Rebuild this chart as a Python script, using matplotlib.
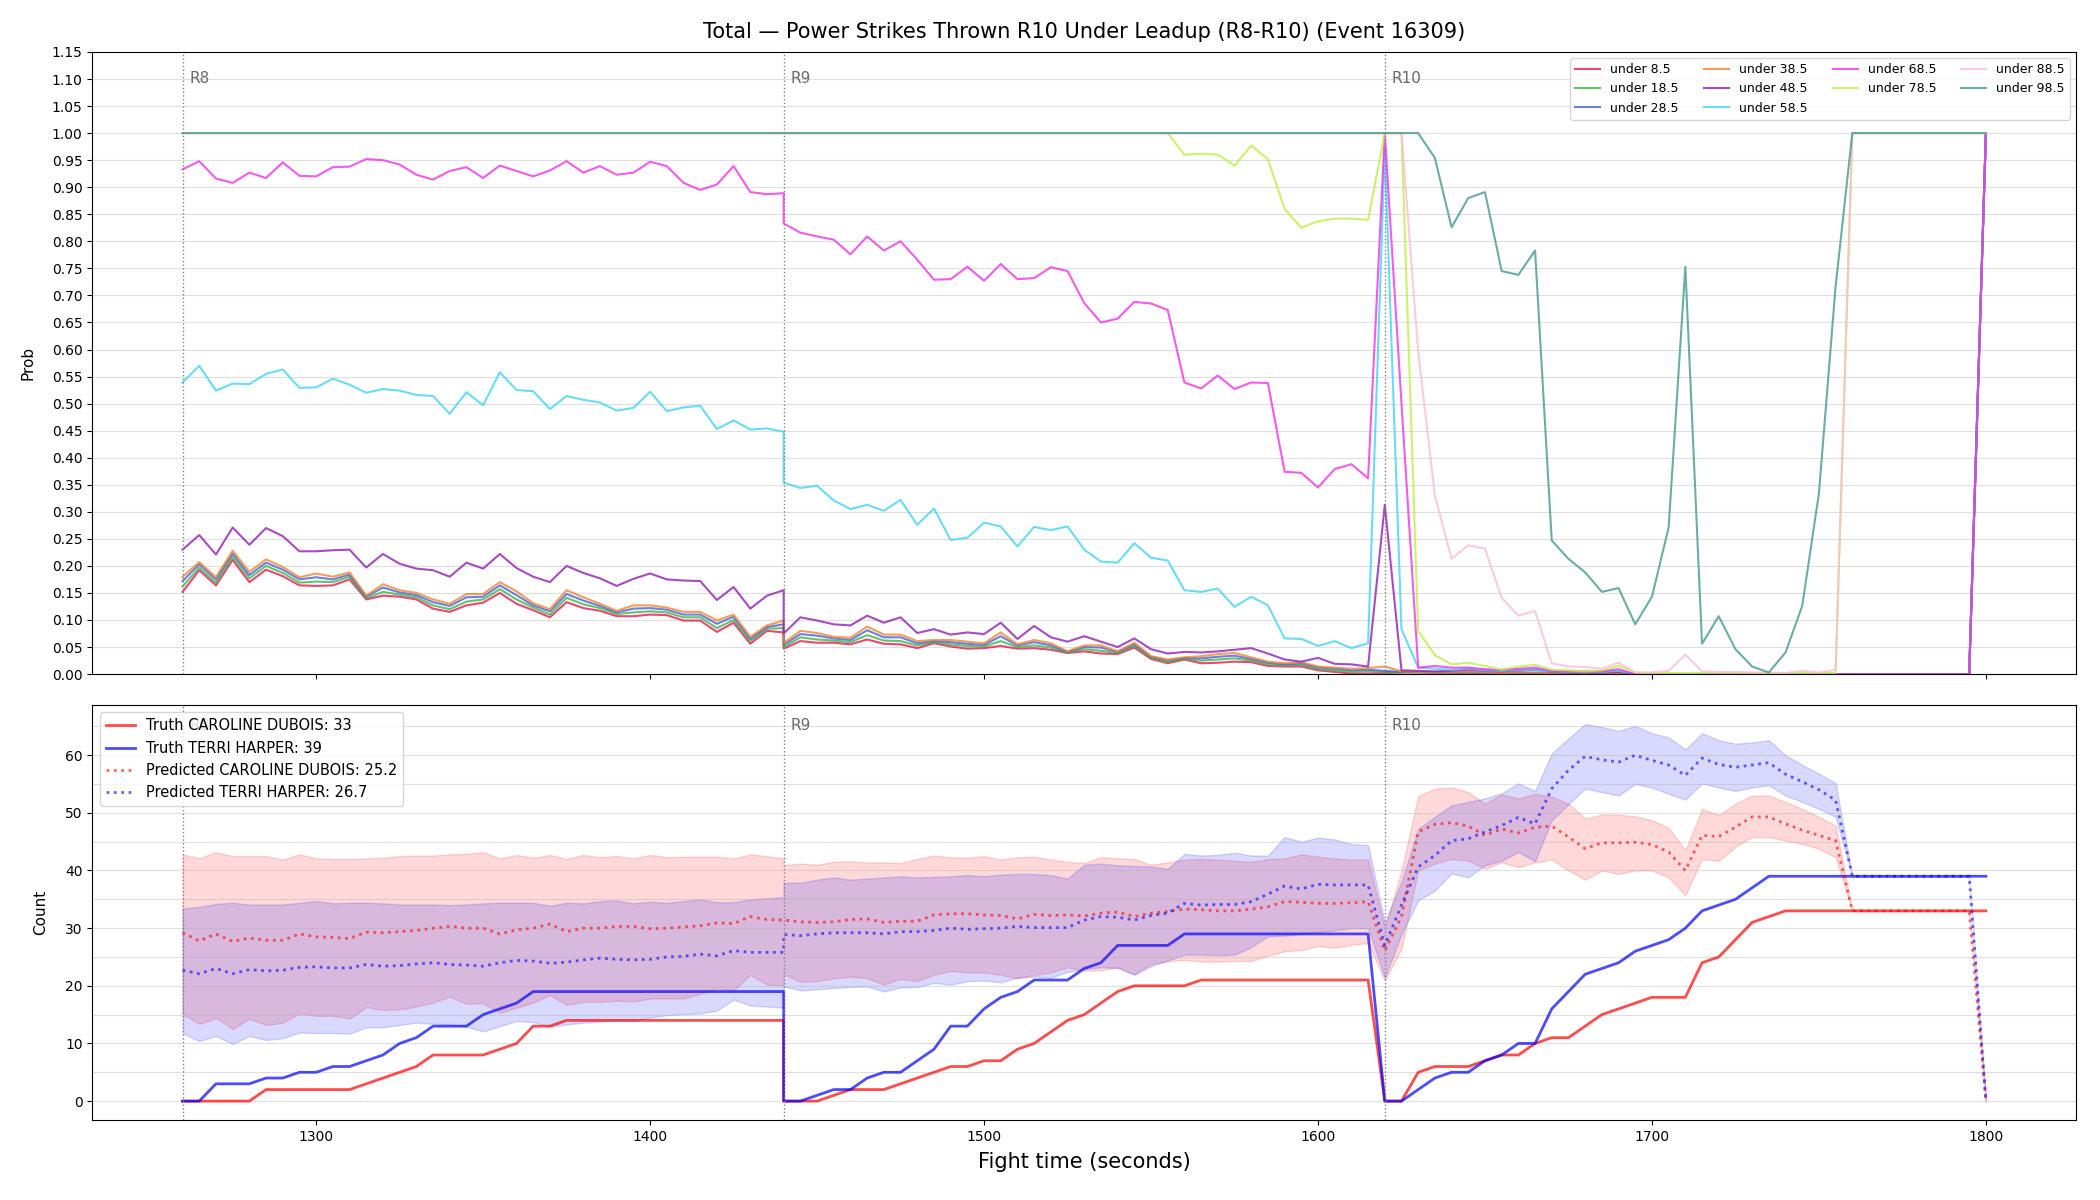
import numpy as np
import matplotlib.pyplot as plt
from matplotlib.ticker import MultipleLocator, FormatStrFormatter

# sample times, 5 s apart; R8 and R9 both carry a sample at 1440
t_r8 = list(range(1260, 1441, 5))
t_r9 = list(range(1440, 1616, 5))
t_r10 = list(range(1620, 1801, 5))
times = t_r8 + t_r9 + t_r10

round_starts = [1260, 1440, 1620]
round_names = ["R8", "R9", "R10"]

# ---- top panel: P(total < line) ----
line_labels = ["under 8.5", "under 18.5", "under 28.5", "under 38.5", "under 48.5",
               "under 58.5", "under 68.5", "under 78.5", "under 88.5", "under 98.5"]
line_colors = ["#e6194B", "#3cb44b", "#4363d8", "#f58231", "#911eb4",
               "#42d4f4", "#f032e6", "#bfef45", "#fabed4", "#469990"]

p_under_8 = ([0.152, 0.192, 0.164, 0.211, 0.170, 0.193, 0.181, 0.164, 0.163, 0.164,
              0.175, 0.138, 0.145, 0.143, 0.138, 0.121, 0.115, 0.127, 0.132, 0.150,
              0.130, 0.118, 0.105, 0.133, 0.122, 0.117, 0.107, 0.107, 0.110, 0.109,
              0.099, 0.099, 0.078, 0.095, 0.056, 0.080, 0.077]
             + [0.047, 0.061, 0.058, 0.058, 0.055, 0.064, 0.056, 0.055, 0.048, 0.057,
                0.051, 0.047, 0.048, 0.052, 0.047, 0.048, 0.045, 0.039, 0.042, 0.038,
                0.037, 0.049, 0.028, 0.020, 0.027, 0.020, 0.021, 0.023, 0.022, 0.015,
                0.014, 0.014, 0.007, 0.004, 0.001, 0.001]
             + [0.002, 0.003, 0.004, 0.003, 0.002, 0.003, 0.002, 0.002, 0.003, 0.002,
                0.001, 0.001, 0.001, 0.001, 0.001] + [0.0] * 21 + [1.0])

p_under_18 = ([0.162, 0.197, 0.169, 0.217, 0.177, 0.200, 0.187, 0.169, 0.171, 0.170,
               0.180, 0.140, 0.152, 0.147, 0.142, 0.127, 0.120, 0.134, 0.138, 0.157,
               0.138, 0.123, 0.110, 0.141, 0.129, 0.122, 0.111, 0.114, 0.116, 0.114,
               0.105, 0.105, 0.085, 0.100, 0.061, 0.084, 0.085]
              + [0.050, 0.068, 0.064, 0.062, 0.059, 0.072, 0.062, 0.061, 0.053, 0.059,
                 0.055, 0.052, 0.051, 0.061, 0.050, 0.053, 0.049, 0.040, 0.046, 0.043,
                 0.039, 0.052, 0.030, 0.022, 0.028, 0.025, 0.027, 0.029, 0.025, 0.018,
                 0.016, 0.017, 0.009, 0.007, 0.004, 0.005]
              + [0.004, 0.003, 0.003, 0.002, 0.002, 0.002, 0.002, 0.001, 0.002, 0.002,
                 0.001, 0.001, 0.001, 0.001, 0.001] + [0.0] * 21 + [1.0])

p_under_28 = ([0.172, 0.203, 0.175, 0.223, 0.183, 0.206, 0.193, 0.175, 0.179, 0.175,
               0.184, 0.143, 0.160, 0.151, 0.146, 0.133, 0.126, 0.142, 0.143, 0.164,
               0.146, 0.127, 0.116, 0.148, 0.136, 0.126, 0.114, 0.121, 0.122, 0.119,
               0.110, 0.110, 0.093, 0.106, 0.065, 0.087, 0.092]
              + [0.054, 0.074, 0.071, 0.066, 0.063, 0.081, 0.068, 0.068, 0.057, 0.061,
                 0.059, 0.056, 0.054, 0.070, 0.053, 0.059, 0.053, 0.041, 0.050, 0.049,
                 0.041, 0.055, 0.032, 0.025, 0.030, 0.029, 0.032, 0.034, 0.028, 0.021,
                 0.018, 0.020, 0.012, 0.010, 0.007, 0.008]
              + [0.006, 0.004, 0.003, 0.003, 0.002, 0.003, 0.002, 0.002, 0.002, 0.002,
                 0.001, 0.001, 0.001, 0.001, 0.001] + [0.0] * 21 + [1.0])

p_under_38 = ([0.180, 0.207, 0.179, 0.228, 0.189, 0.212, 0.198, 0.179, 0.186, 0.180,
               0.188, 0.145, 0.166, 0.155, 0.150, 0.138, 0.130, 0.148, 0.148, 0.170,
               0.153, 0.131, 0.120, 0.155, 0.142, 0.130, 0.117, 0.127, 0.127, 0.123,
               0.115, 0.115, 0.099, 0.110, 0.069, 0.090, 0.099]
              + [0.057, 0.080, 0.076, 0.069, 0.067, 0.088, 0.073, 0.073, 0.061, 0.063,
                 0.063, 0.060, 0.057, 0.077, 0.055, 0.063, 0.057, 0.042, 0.053, 0.053,
                 0.042, 0.058, 0.033, 0.027, 0.031, 0.033, 0.037, 0.039, 0.031, 0.023,
                 0.020, 0.022, 0.014, 0.012, 0.010, 0.011]
              + [0.014, 0.005, 0.004, 0.003, 0.003, 0.004, 0.003, 0.002, 0.003, 0.003,
                 0.002, 0.002, 0.002, 0.001, 0.001] + [0.0] * 21 + [1.0])

p_under_48 = ([0.230, 0.257, 0.221, 0.271, 0.239, 0.270, 0.255, 0.227, 0.227, 0.229,
               0.230, 0.197, 0.222, 0.204, 0.195, 0.192, 0.180, 0.206, 0.195, 0.222,
               0.196, 0.180, 0.170, 0.200, 0.187, 0.177, 0.163, 0.176, 0.186, 0.175,
               0.173, 0.172, 0.137, 0.161, 0.121, 0.145, 0.155]
              + [0.075, 0.105, 0.099, 0.092, 0.090, 0.108, 0.095, 0.105, 0.076, 0.083,
                 0.073, 0.077, 0.074, 0.095, 0.065, 0.089, 0.068, 0.060, 0.070, 0.060,
                 0.050, 0.066, 0.046, 0.038, 0.041, 0.040, 0.042, 0.045, 0.048, 0.038,
                 0.027, 0.023, 0.030, 0.019, 0.018, 0.014]
              + [0.313, 0.007, 0.006, 0.005, 0.006, 0.008, 0.006, 0.005, 0.007, 0.008,
                 0.004, 0.003, 0.003, 0.003, 0.004] + [0.0] * 21 + [1.0])

p_under_58 = ([0.539, 0.570, 0.524, 0.537, 0.536, 0.555, 0.563, 0.529, 0.530, 0.546,
               0.535, 0.520, 0.527, 0.524, 0.516, 0.514, 0.481, 0.521, 0.497, 0.558,
               0.525, 0.523, 0.490, 0.514, 0.507, 0.502, 0.487, 0.492, 0.522, 0.486,
               0.493, 0.496, 0.453, 0.469, 0.452, 0.454, 0.448]
              + [0.354, 0.344, 0.348, 0.321, 0.305, 0.313, 0.302, 0.322, 0.276, 0.306,
                 0.248, 0.252, 0.280, 0.273, 0.236, 0.272, 0.266, 0.273, 0.230, 0.208,
                 0.206, 0.242, 0.215, 0.210, 0.155, 0.152, 0.158, 0.124, 0.143, 0.127,
                 0.066, 0.065, 0.052, 0.061, 0.048, 0.057]
              + [0.970, 0.083, 0.012, 0.010, 0.008, 0.010, 0.007, 0.006, 0.008, 0.007,
                 0.005, 0.004, 0.004, 0.004, 0.006] + [0.0] * 21 + [1.0])

p_under_68 = ([0.933, 0.948, 0.916, 0.908, 0.927, 0.917, 0.946, 0.921, 0.920, 0.937,
               0.938, 0.952, 0.950, 0.942, 0.923, 0.914, 0.930, 0.937, 0.917, 0.940,
               0.930, 0.920, 0.931, 0.948, 0.927, 0.939, 0.923, 0.927, 0.947, 0.939,
               0.908, 0.895, 0.905, 0.939, 0.891, 0.887, 0.889]
              + [0.833, 0.816, 0.809, 0.803, 0.776, 0.809, 0.783, 0.800, 0.766, 0.729,
                 0.730, 0.753, 0.727, 0.758, 0.730, 0.732, 0.752, 0.745, 0.686, 0.650,
                 0.657, 0.688, 0.685, 0.673, 0.539, 0.528, 0.552, 0.527, 0.539, 0.538,
                 0.374, 0.372, 0.345, 0.379, 0.388, 0.362]
              + [1.0, 0.50, 0.012, 0.015, 0.012, 0.012, 0.009, 0.008, 0.010, 0.012,
                 0.006, 0.005, 0.005, 0.005, 0.009] + [0.0] * 21 + [1.0])

p_under_78 = ([1.0] * 37
              + [1.0] * 24 + [0.960, 0.962, 0.960, 0.940, 0.977, 0.952,
                              0.860, 0.825, 0.837, 0.842, 0.842, 0.840]
              + [1.0, 1.0, 0.080, 0.035, 0.018, 0.021, 0.015, 0.008, 0.014, 0.017,
                 0.008, 0.007, 0.005, 0.007, 0.015, 0.003, 0.002, 0.002, 0.002, 0.002,
                 0.002, 0.002, 0.002, 0.002, 0.002, 0.002, 0.002, 0.002] + [1.0] * 9)

p_under_88 = ([1.0] * 37 + [1.0] * 36
              + [1.0, 1.0, 0.596, 0.330, 0.213, 0.238, 0.232, 0.141, 0.108, 0.117,
                 0.020, 0.014, 0.013, 0.010, 0.021, 0.003, 0.003, 0.006, 0.036, 0.005,
                 0.004, 0.004, 0.003, 0.003, 0.002, 0.006, 0.003, 0.008] + [1.0] * 9)

p_under_98 = ([1.0] * 37 + [1.0] * 36
              + [1.0, 1.0, 1.0, 0.954, 0.826, 0.880, 0.891, 0.745, 0.738, 0.783,
                 0.247, 0.213, 0.188, 0.152, 0.159, 0.092, 0.143, 0.271, 0.753, 0.056,
                 0.107, 0.046, 0.014, 0.003, 0.040, 0.126, 0.334, 0.717] + [1.0] * 9)

prob_series = [p_under_8, p_under_18, p_under_28, p_under_38, p_under_48,
               p_under_58, p_under_68, p_under_78, p_under_88, p_under_98]

# ---- bottom panel: counts ----
truth_caroline = ([0] * 5 + [2] * 6 + [3, 4, 5, 6] + [8] * 4 + [9, 10, 13, 13] + [14] * 14
                  + [0, 0, 0, 1, 2, 2, 2, 3, 4, 5, 6, 6, 7, 7, 9, 10, 12, 14, 15, 17,
                     19, 20, 20, 20, 20] + [21] * 11
                  + [0, 0, 5, 6, 6, 6, 7, 8, 8, 10, 11, 11, 13, 15, 16, 17, 18, 18, 18, 24,
                     25, 28, 31, 32] + [33] * 13)
truth_terri = ([0, 0, 3, 3, 3, 4, 4, 5, 5, 6, 6, 7, 8, 10, 11, 13, 13, 13, 15, 16, 17] + [19] * 16
               + [0, 0, 1, 2, 2, 4, 5, 5, 7, 9, 13, 13, 16, 18, 19, 21, 21, 21, 23, 24,
                  27, 27, 27, 27] + [29] * 12
               + [0, 0, 2, 4, 5, 5, 7, 8, 10, 10, 16, 19, 22, 23, 24, 26, 27, 28, 30, 33,
                  34, 35, 37] + [39] * 14)

pred_caroline = ([29.2, 27.8, 29.0, 27.7, 28.3, 27.9, 27.9, 29.0, 28.5, 28.4, 28.2, 29.3,
                  29.2, 29.4, 29.6, 30.0, 30.3, 30.0, 30.0, 29.0, 29.7, 30.0, 30.7, 29.4,
                  30.0, 30.0, 30.3, 30.3, 29.9, 30.0, 30.2, 30.4, 30.9, 30.8, 32.0, 31.5, 31.4]
                 + [31.4, 31.1, 31.0, 31.1, 31.5, 31.6, 31.0, 31.2, 31.2, 32.3, 32.5, 32.5,
                    32.3, 32.2, 31.6, 32.4, 32.2, 32.3, 32.1, 32.6, 32.8, 32.0, 32.6, 32.9,
                    33.3, 33.2, 33.0, 33.0, 33.3, 33.7, 34.6, 34.5, 34.3, 34.3, 34.4, 34.6]
                 + [26.1, 32.0, 46.7, 48.0, 48.3, 47.7, 46.1, 47.2, 46.5, 47.5, 47.7, 45.8,
                    43.8, 44.8, 44.8, 44.9, 44.5, 43.2, 40.0, 46.1, 45.9, 47.5, 49.3, 49.3,
                    48.1, 47.0, 46.1, 45.2] + [33.0] * 8 + [0.0])
pred_terri = ([22.7, 22.1, 23.0, 22.1, 22.8, 22.6, 22.7, 23.2, 23.3, 23.1, 23.1, 23.7,
               23.4, 23.5, 23.8, 24.0, 23.7, 23.6, 23.4, 24.0, 24.4, 24.3, 23.9, 24.1,
               24.5, 24.8, 24.6, 24.5, 24.6, 25.0, 25.1, 25.5, 25.2, 26.1, 25.8, 25.8, 25.8]
              + [28.9, 28.7, 29.0, 29.2, 29.2, 29.2, 29.0, 29.4, 29.4, 29.6, 30.0, 29.8,
                 29.9, 30.0, 30.3, 30.1, 30.1, 30.1, 31.4, 32.0, 31.9, 31.4, 32.2, 32.6,
                 34.3, 34.0, 34.1, 34.1, 34.6, 35.9, 37.3, 36.8, 37.6, 37.5, 37.5, 37.5]
              + [27.0, 34.0, 40.6, 42.6, 45.2, 45.5, 46.7, 47.8, 49.2, 48.1, 54.2, 57.4,
                 59.8, 59.2, 58.8, 60.0, 59.1, 58.3, 56.5, 59.5, 58.4, 57.9, 58.3, 58.7,
                 56.7, 55.4, 54.0, 52.2] + [39.0] * 8 + [0.0])

caroline_hi = ([42.8, 42.1, 43.2, 42.5, 42.5, 42.5, 41.9, 42.8, 42.1, 42.0, 42.0, 42.1,
                42.2, 42.5, 42.6, 42.6, 42.8, 42.9, 43.2, 42.1, 42.7, 42.2, 42.7, 42.0,
                42.7, 42.3, 42.5, 42.1, 42.7, 42.3, 42.4, 42.4, 42.4, 42.1, 42.8, 42.5, 42.1]
               + [40.9, 41.2, 41.0, 41.5, 41.6, 41.4, 41.4, 41.3, 42.0, 42.6, 42.3, 42.2,
                  42.5, 41.9, 42.3, 42.4, 41.9, 41.5, 41.3, 42.3, 42.1, 42.0, 41.0, 41.4,
                  41.9, 42.0, 41.9, 41.7, 41.5, 42.0, 42.1, 42.8, 42.4, 42.1, 41.9, 41.9]
               + [30.0, 40.0, 52.9, 54.2, 54.4, 53.6, 51.6, 53.2, 52.5, 53.3, 52.8, 51.6,
                  49.0, 49.7, 49.7, 49.4, 48.7, 47.4, 43.5, 50.7, 49.6, 51.6, 53.0, 53.0,
                  51.9, 50.7, 49.3, 47.8] + [33.0] * 8 + [0.0])
caroline_lo = ([15.1, 13.4, 14.4, 12.5, 14.3, 13.2, 13.6, 15.2, 14.8, 14.8, 14.3, 16.3,
                15.8, 15.9, 16.4, 17.1, 18.1, 16.9, 17.0, 15.3, 16.2, 17.1, 18.4, 16.7,
                17.2, 17.2, 17.4, 17.3, 17.8, 17.8, 17.8, 18.6, 19.6, 19.2, 21.9, 20.2, 20.1]
               + [22.0, 20.7, 20.8, 21.3, 21.6, 21.3, 20.2, 21.2, 20.8, 21.9, 22.6, 22.3,
                  22.3, 21.9, 21.3, 21.9, 22.3, 23.2, 22.6, 22.7, 23.2, 22.0, 23.8, 24.2,
                  24.5, 24.2, 24.2, 24.3, 24.3, 25.2, 26.0, 26.2, 26.9, 26.6, 27.1, 27.4]
               + [20.9, 26.4, 40.0, 41.2, 42.0, 41.7, 40.3, 41.4, 40.6, 41.4, 41.9, 40.0,
                  38.4, 40.0, 39.4, 40.0, 40.0, 38.8, 35.7, 42.0, 41.7, 44.1, 45.8, 45.8,
                  45.2, 44.6, 43.8, 42.3] + [33.0] * 8 + [0.0])
terri_hi = ([33.4, 33.7, 34.2, 34.4, 34.1, 34.1, 34.1, 34.4, 34.7, 34.3, 34.4, 34.4,
             34.3, 34.1, 34.1, 34.1, 34.0, 34.1, 34.3, 34.4, 34.4, 34.4, 33.9, 34.4,
             34.3, 34.7, 34.8, 34.3, 34.6, 34.4, 34.7, 35.0, 34.5, 34.5, 35.0, 35.2, 35.4]
            + [37.9, 37.9, 38.4, 38.8, 38.4, 38.6, 38.8, 39.0, 38.8, 38.9, 39.0, 39.2,
               39.0, 39.3, 39.4, 39.4, 39.2, 38.6, 41.0, 41.2, 40.9, 40.8, 40.7, 40.3,
               42.9, 42.6, 42.7, 43.1, 42.6, 42.6, 45.8, 45.0, 45.7, 45.4, 44.6, 44.4]
            + [31.0, 38.0, 47.2, 49.3, 51.3, 51.9, 52.5, 53.4, 55.1, 53.8, 60.3, 62.9,
               65.4, 64.9, 64.2, 65.1, 63.8, 63.1, 61.0, 63.8, 62.6, 62.0, 62.2, 62.6,
               60.0, 58.3, 56.8, 55.2] + [39.0] * 8 + [0.0])
terri_lo = ([11.8, 10.4, 11.3, 9.9, 11.3, 10.6, 10.9, 11.9, 11.8, 11.8, 11.7, 12.8,
             12.8, 13.2, 13.6, 13.4, 13.3, 12.9, 12.1, 13.0, 13.9, 13.7, 12.9, 13.3,
             13.6, 13.8, 14.0, 13.9, 14.5, 14.9, 15.1, 15.2, 15.7, 17.6, 16.6, 16.4, 16.2]
            + [19.9, 19.2, 19.4, 19.6, 19.8, 19.9, 19.0, 19.7, 19.8, 20.5, 20.2, 20.8,
               20.9, 20.6, 21.4, 21.6, 21.4, 22.4, 22.9, 23.2, 23.1, 21.9, 23.4, 24.4,
               25.4, 25.4, 25.3, 25.4, 26.7, 28.6, 28.7, 29.0, 29.3, 29.6, 30.0, 30.0]
            + [21.4, 29.0, 34.8, 36.5, 39.5, 38.8, 40.9, 41.7, 43.2, 41.6, 48.7, 51.5,
               54.2, 53.6, 53.0, 55.0, 54.4, 53.3, 52.3, 55.1, 54.4, 53.8, 54.4, 54.8,
               53.0, 51.9, 50.7, 49.3] + [39.0] * 8 + [0.0])

legend_truth = ["Truth CAROLINE DUBOIS: 33", "Truth TERRI HARPER: 39"]
legend_pred = ["Predicted CAROLINE DUBOIS: 25.2", "Predicted TERRI HARPER: 26.7"]


def mark_rounds(ax):
    for x, name in zip(round_starts, round_names):
        ax.axvline(x, color="gray", linestyle=":", linewidth=1)
        ax.text(x + 2, 0.97, name, transform=ax.get_xaxis_transform(),
                va="top", ha="left", color="dimgray", fontsize=11)


fig, (ax1, ax2) = plt.subplots(2, 1, figsize=(21, 12), dpi=100, sharex=True,
                               gridspec_kw={"height_ratios": [3, 2]})

for lab, col, vals in zip(line_labels, line_colors, prob_series):
    ax1.plot(times, vals, color=col, linewidth=1.5, alpha=0.8, label=lab)
mark_rounds(ax1)
ax1.set_ylim(0, 1.15)
ax1.yaxis.set_major_locator(MultipleLocator(0.05))
ax1.yaxis.set_major_formatter(FormatStrFormatter("%.2f"))
ax1.grid(axis="y", alpha=0.4)
ax1.set_ylabel("Prob", fontsize=11, labelpad=12)
ax1.set_title("Total \u2014 Power Strikes Thrown R10 Under Leadup (R8-R10) (Event 16309)",
              fontsize=15, pad=10)
ax1.legend(loc="upper right", ncol=4, fontsize=9)

ax2.fill_between(times, caroline_lo, caroline_hi, color="red", alpha=0.15)
ax2.fill_between(times, terri_lo, terri_hi, color="blue", alpha=0.15)
ax2.plot(times, truth_caroline, color="red", linewidth=2, alpha=0.7, label=legend_truth[0])
ax2.plot(times, truth_terri, color="blue", linewidth=2, alpha=0.7, label=legend_truth[1])
ax2.plot(times, pred_caroline, color="red", linewidth=2, alpha=0.6, linestyle=":",
         label=legend_pred[0])
ax2.plot(times, pred_terri, color="blue", linewidth=2, alpha=0.6, linestyle=":",
         label=legend_pred[1])
mark_rounds(ax2)
ax2.yaxis.set_major_locator(MultipleLocator(10))
ax2.yaxis.set_minor_locator(MultipleLocator(5))
ax2.tick_params(axis="y", which="minor", length=0)
ax2.grid(axis="y", which="both", alpha=0.4)
ax2.set_ylabel("Count", fontsize=11, labelpad=12)
ax2.set_xlabel("Fight time (seconds)", fontsize=15, labelpad=6)
ax2.legend(loc="upper left", fontsize=10.5)

fig.subplots_adjust(left=0.044, right=0.9886, top=0.9567, bottom=0.0667, hspace=0.06)
fig.savefig("out.png", dpi=100)
